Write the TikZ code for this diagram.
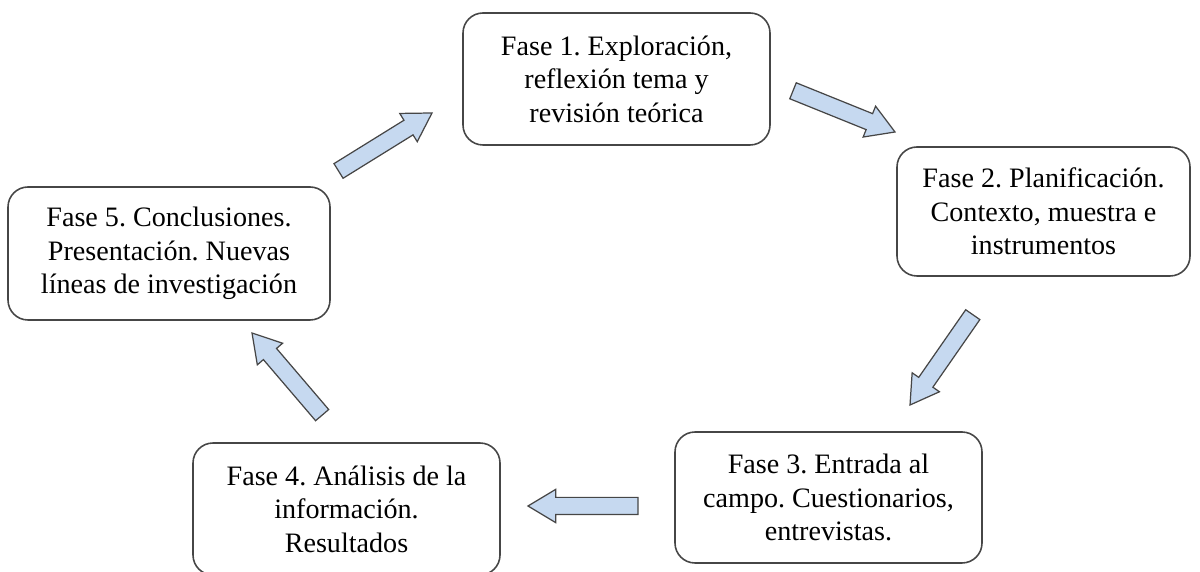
\documentclass[tikz,border=0pt]{standalone}
\usepackage{fontspec}
\setmainfont{Liberation Serif}
\usepackage{tikz}
\usetikzlibrary{shapes.arrows}
\frenchspacing
\definecolor{arrowfill}{RGB}{198,217,240}
\definecolor{edgegray}{RGB}{70,70,70}
\tikzset{
	fase/.style={draw=edgegray, line width=0.9pt, rounded corners=0.4cm, align=center,
		minimum width=6.14cm, minimum height=2.64cm, font=\fontsize{16}{19}\selectfont},
	flecha/.style={single arrow, draw=edgegray, fill=arrowfill, line width=0.7pt,
		inner xsep=0pt, inner ysep=0.16cm, single arrow head extend=0.16cm, single arrow tip angle=62,
		minimum height=2.2cm, outer sep=0pt, anchor=tip}
}

\begin{document}
\begin{tikzpicture}
	\useasboundingbox (0,0) rectangle (24,11.44);
	% fases
	\node[fase] (f1) at (12.33,9.86) {Fase 1. Exploración,\\ reflexión tema y\\ revisión teórica};
	\node[fase, minimum width=5.86cm, minimum height=2.58cm] (f2) at (20.87,7.21) {Fase 2. Planificación.\\ Contexto, muestra e\\ instrumentos};
	\node[fase, minimum height=2.62cm] (f3) at (16.57,1.49) {Fase 3. Entrada al\\ campo. Cuestionarios,\\ entrevistas.};
	\node[fase] (f4) at (6.93,1.26) {Fase 4. Análisis de la\\ información.\\ Resultados};
	\node[fase, minimum width=6.44cm, minimum height=2.66cm] (f5) at (3.38,6.37) {Fase 5. Conclusiones.\\ Presentación. Nuevas\\ líneas de investigación};
	% flechas, colocadas por la punta
	\node[flecha, rotate=31.8] (a51) at (8.64,9.18) {};
	\node[flecha, rotate=-22] (a12) at (17.90,8.80) {};
	\node[flecha, rotate=-124.8] (a23) at (18.20,3.34) {};
	\node[flecha, rotate=180] (a34) at (10.56,1.32) {};
	\node[flecha, rotate=130.5, minimum height=2.16cm] (a45) at (5.04,4.78) {};
\end{tikzpicture}
\end{document}
